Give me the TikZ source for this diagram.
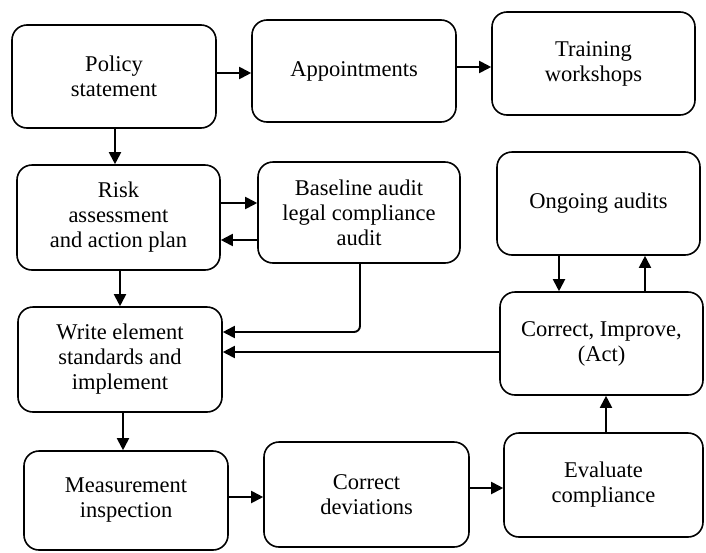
\documentclass[tikz,border=0pt]{standalone}
\usepackage{fontspec}
\setmainfont{Liberation Serif}
\usetikzlibrary{arrows.meta}
\begin{document}
\begin{tikzpicture}[x=1pt,y=-1pt,
  box/.style={draw, line width=1.6pt, rounded corners=15pt, align=center,
    inner sep=0pt, font=\fontsize{22.5}{25}\selectfont},
  arr/.style={line width=1.9pt, -{Triangle[length=12pt,width=12pt]}}]
\useasboundingbox (0,0) rectangle (706,552);
\node[box, minimum width=204pt, minimum height=103pt] (policy) at (114,76.5) {Policy\\statement};
\node[box, minimum width=204pt, minimum height=102pt] (app) at (354,71) {Appointments};
\node[box, minimum width=203pt, minimum height=103pt] (train) at (593.5,63.5) {Training\\workshops};
\node[box, minimum width=203pt, minimum height=105pt] (risk) at (118.5,217.5) {Risk\\assessment\\and action plan};
\node[box, minimum width=202pt, minimum height=101pt] (base) at (359,212.5) {Baseline audit\\legal compliance\\audit};
\node[box, minimum width=203pt, minimum height=103pt] (ongo) at (598.5,203.5) {Ongoing audits};
\node[box, minimum width=203pt, minimum height=103pt] (act) at (601.5,343.5) {Correct, Improve,\\(Act)};
\node[box, minimum width=204pt, minimum height=105pt] (write) at (120,359.5) {Write element\\standards and\\implement};
\node[box, minimum width=204pt, minimum height=99pt] (meas) at (126,500.5) {Measurement\\inspection};
\node[box, minimum width=205pt, minimum height=105pt] (cdev) at (366.5,494.5) {Correct\\deviations};
\node[box, minimum width=199pt, minimum height=104pt] (eval) at (603.5,485) {Evaluate\\compliance};

\draw[arr] (policy.east |- 0,73) -- (app.west |- 0,73);
\draw[arr] (app.east |- 0,67) -- (train.west |- 0,67);
\draw[arr] (policy.south -| 115,0) -- (risk.north -| 115,0);
\draw[arr] (risk.east |- 0,203) -- (base.west |- 0,203);
\draw[arr] (base.west |- 0,240) -- (risk.east |- 0,240);
\draw[arr] (risk.south -| 120,0) -- (write.north -| 120,0);
\draw[arr, rounded corners=6pt] (base.south -| 360,0) |- (write.east |- 0,332);
\draw[arr] (act.west |- 0,352) -- (write.east |- 0,352);
\draw[arr] (ongo.south -| 559,0) -- (act.north -| 559,0);
\draw[arr] (act.north -| 645,0) -- (ongo.south -| 645,0);
\draw[arr] (write.south -| 123,0) -- (meas.north -| 123,0);
\draw[arr] (meas.east |- 0,497) -- (cdev.west |- 0,497);
\draw[arr] (cdev.east |- 0,488) -- (eval.west |- 0,488);
\draw[arr] (eval.north -| 606,0) -- (act.south -| 606,0);
\end{tikzpicture}
\end{document}
